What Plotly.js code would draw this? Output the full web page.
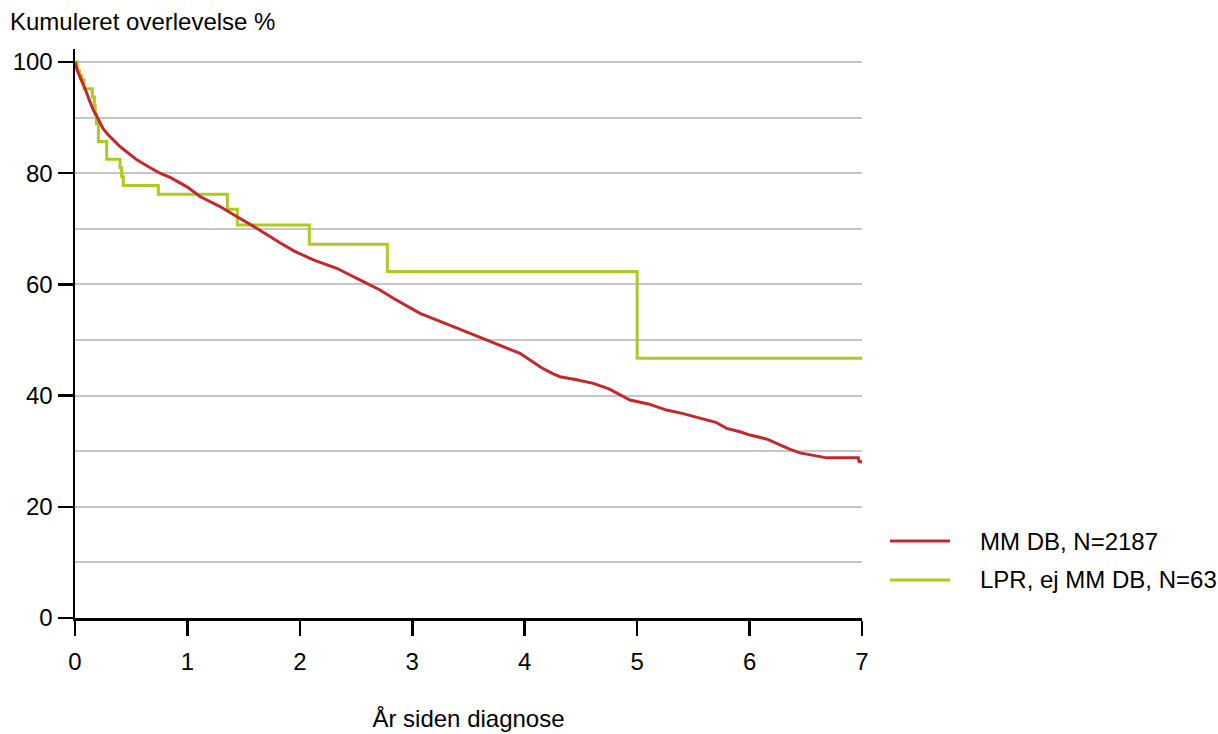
<!DOCTYPE html>
<html>
<head>
<meta charset="utf-8">
<script src="https://cdn.plot.ly/plotly-3.0.1.min.js"></script>
<style>
  html, body { margin: 0; padding: 0; background: #ffffff; }
  #chart { width: 1218px; height: 734px; }
</style>
</head>
<body>
<div id="chart"></div>
<script>
// Kaplan-Meier survival estimates, years since diagnosis vs cumulative survival (%)
const seriesNames = ['MM DB, N=2187', 'LPR, ej MM DB, N=63'];
const seriesColors = ['#c3282f', '#aec925'];

const mmYears = [0, 0.02, 0.05, 0.09, 0.13, 0.16, 0.2, 0.25, 0.3, 0.4, 0.5, 0.55, 0.65, 0.756, 0.85,
  0.934, 1.0, 1.112, 1.29, 1.438, 1.616, 1.823, 1.95, 2.12, 2.328, 2.564, 2.713, 2.831, 3.069,
  3.365, 3.662, 3.958, 4.047, 4.15, 4.254, 4.314, 4.45, 4.61, 4.75, 4.936, 5.1, 5.263, 5.4, 5.559,
  5.7, 5.796, 5.915, 6.004, 6.15, 6.241, 6.35, 6.448, 6.55, 6.686, 6.967, 6.975, 7.0];
const mmSurv = [100, 98.5, 97.0, 95.2, 93.0, 91.5, 90.0, 88.0, 86.8, 84.8, 83.2, 82.4, 81.2, 80.0, 79.2,
  78.2, 77.5, 75.8, 74.0, 72.2, 70.1, 67.5, 66.0, 64.4, 62.9, 60.5, 59.0, 57.5, 54.8,
  52.4, 50.0, 47.6, 46.4, 45.0, 43.9, 43.4, 42.9, 42.2, 41.2, 39.2, 38.5, 37.4, 36.8, 35.9,
  35.2, 34.1, 33.5, 32.9, 32.2, 31.4, 30.4, 29.7, 29.3, 28.8, 28.8, 28.1, 28.1];

const lprYears = [0, 0.02, 0.04, 0.06, 0.08, 0.154, 0.172, 0.18, 0.19, 0.208, 0.282, 0.40, 0.415,
  0.43, 0.741, 1.355, 1.444, 2.084, 2.778, 5.0, 7.0];
const lprSurv = [100, 98.4, 97.6, 96.8, 95.2, 93.7, 92.1, 90.5, 88.9, 85.7, 82.5, 81.0, 79.4,
  77.8, 76.2, 73.5, 70.7, 67.2, 62.3, 46.7, 46.7];

const yTicks = [0, 20, 40, 60, 80, 100];
const xTicks = [0, 1, 2, 3, 4, 5, 6, 7];

const FONT = '"Liberation Sans", Arial, sans-serif';
const FS = 24;

const traces = [
  {
    x: lprYears, y: lprSurv, name: seriesNames[1], type: 'scatter', mode: 'lines',
    line: { color: seriesColors[1], width: 3, shape: 'hv' }, showlegend: false, hoverinfo: 'x+y'
  },
  {
    x: mmYears, y: mmSurv, name: seriesNames[0], type: 'scatter', mode: 'lines',
    line: { color: seriesColors[0], width: 3, shape: 'linear' }, showlegend: false, hoverinfo: 'x+y'
  }
];

// legend keys drawn at the right of the plot
const legendRows = [0.1353, 0.0668];
const shapes = [];
const annotations = [];
seriesNames.forEach((name, i) => {
  shapes.push({
    type: 'line', xref: 'paper', yref: 'paper',
    x0: 1.0356, x1: 1.1118, y0: legendRows[i], y1: legendRows[i],
    line: { color: seriesColors[i], width: 3 }
  });
  annotations.push({
    xref: 'paper', yref: 'paper', x: 1.1474, y: legendRows[i],
    xanchor: 'left', yanchor: 'middle', showarrow: false,
    text: name, font: { family: FONT, size: FS, color: '#000' }
  });
});

const layout = {
  width: 1218, height: 734,
  margin: { l: 75, r: 356, t: 49, b: 116, pad: 0 },
  paper_bgcolor: '#ffffff', plot_bgcolor: '#ffffff',
  font: { family: FONT, size: FS, color: '#000' },
  showlegend: false,
  title: {
    text: 'Kumuleret overlevelse %',
    xref: 'container', yref: 'container',
    x: 10 / 1218, xanchor: 'left',
    y: 1 - 22 / 734, yanchor: 'middle',
    font: { family: FONT, size: FS, color: '#000' }
  },
  xaxis: {
    range: [0, 7], tickvals: xTicks, ticktext: xTicks.map(String),
    showgrid: false, zeroline: false,
    showline: true, linecolor: '#000', linewidth: 2.5,
    ticks: 'outside', ticklen: 15, tickwidth: 2.5, tickcolor: '#000',
    ticklabelstandoff: 6,
    tickfont: { family: FONT, size: FS, color: '#000' },
    title: { text: 'År siden diagnose', standoff: 36, font: { family: FONT, size: FS, color: '#000' } }
  },
  yaxis: {
    range: [0, 102.34], tickvals: yTicks, ticktext: yTicks.map(String),
    showgrid: true, gridcolor: '#c6c6c6', gridwidth: 2,
    minor: { dtick: 10, tick0: 0, showgrid: true, gridcolor: '#c6c6c6', gridwidth: 2, ticks: '' },
    zeroline: false,
    showline: true, linecolor: '#000', linewidth: 2.5,
    ticks: 'outside', ticklen: 15, tickwidth: 2.5, tickcolor: '#000',
    ticklabelstandoff: 0,
    tickfont: { family: FONT, size: FS, color: '#000' }
  },
  shapes: shapes,
  annotations: annotations
};

Plotly.newPlot('chart', traces, layout, { displayModeBar: false, staticPlot: true });
</script>
</body>
</html>
